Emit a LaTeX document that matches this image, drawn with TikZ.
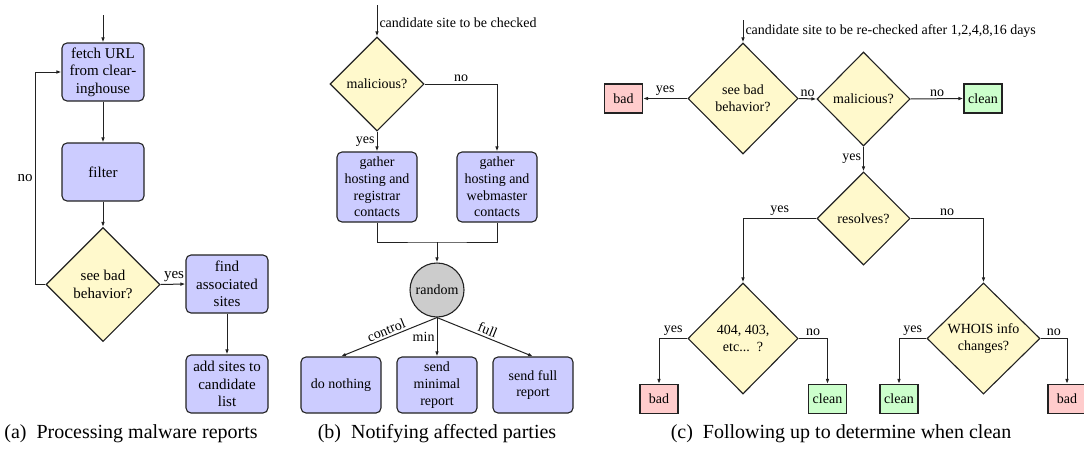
\documentclass[tikz,border=0pt]{standalone}
\usepackage{fontspec}
\setmainfont{Liberation Serif}
\newfontfamily\tms{Liberation Serif}
\usetikzlibrary{arrows.meta,shapes.geometric}
\definecolor{boxfill}{HTML}{CCCCFF}
\definecolor{decfill}{HTML}{FFF9CC}
\definecolor{rndfill}{HTML}{CCCCCC}
\definecolor{badfill}{HTML}{FFCCCC}
\definecolor{cleanfill}{HTML}{CCFFCC}
\definecolor{linec}{HTML}{222222}
\tikzset{
  x=1pt,y=-1pt,
  every node/.style={font=\tms\fontsize{14}{16.7}\selectfont},
  arr/.style={draw=linec,line width=1pt,-{Latex[length=5pt,width=3.6pt]}},
  ln/.style={draw=linec,line width=1pt},
  procbox/.style={draw=linec,line width=1.1pt,fill=boxfill,rounded corners=5pt,align=center,
    minimum width=80pt,inner sep=1pt},
  bigbox/.style={procbox,minimum width=82pt,minimum height=58pt,font=\tms\fontsize{15}{17.5}\selectfont},
  decision/.style={diamond,draw=linec,line width=1.1pt,fill=decfill,align=center,inner sep=0pt,aspect=1},
  randnode/.style={circle,draw=linec,line width=1.1pt,fill=rndfill,minimum size=54pt,inner sep=0pt},
  badbox/.style={draw=linec,line width=1.1pt,fill=badfill,minimum width=38pt,minimum height=29pt,inner sep=1pt},
  cleanbox/.style={draw=linec,line width=1.1pt,fill=cleanfill,minimum width=38pt,minimum height=29pt,inner sep=1pt},
  lbl/.style={font=\tms\fontsize{14}{16.7}\selectfont,inner sep=2pt},
  lbla/.style={font=\tms\fontsize{15}{17.5}\selectfont,inner sep=2pt},
  captext/.style={font=\tms\fontsize{20}{24}\selectfont,anchor=base}
}
\begin{document}
\begin{tikzpicture}
\useasboundingbox (0,0) rectangle (1084,450);
% ---------------- (a)
\coordinate (sA) at (103,15);
\node[bigbox] (fetch) at (103,72) {fetch URL\\from clear-\\inghouse};
\node[bigbox] (filter) at (103,172) {filter};
\node[decision,minimum width=114pt,minimum height=114pt,font=\tms\fontsize{15}{17.5}\selectfont] (dA) at (103,284.5) {see bad\\behavior?};
\node[bigbox] (find) at (227,284) {find\\associated\\sites};
\node[bigbox] (add) at (227,384) {add sites to\\candidate\\list};
\coordinate (loopA) at (35,284.5);
\draw[arr] (sA) -- (fetch.north);
\draw[arr] (fetch.south) -- (filter.north);
\draw[arr] (filter.south) -- (dA.north);
\draw[arr] (dA.west) -- (loopA) |- node[pos=0.25,left,lbla]{no} (fetch.west);
\draw[arr] (dA.east) -- node[above,lbla,xshift=1pt]{yes} (find.west);
\draw[arr] (find.south) -- (add.north);
\node[captext] (capA) at (131,438) {(a)\enspace Processing malware reports};
% ---------------- (b)
\coordinate (sB) at (377,5);
\node[decision,minimum width=94pt,minimum height=94pt] (dB) at (377,84) {malicious?};
\node[procbox,minimum height=70pt] (gl) at (377,187) {gather\\hosting and\\registrar\\contacts};
\node[procbox,minimum height=70pt] (gr) at (497,187) {gather\\hosting and\\webmaster\\contacts};
\node[randnode] (rnd) at (437,290) {random};
\node[procbox,minimum height=56pt] (nothing) at (341,385) {do nothing};
\node[procbox,minimum height=56pt] (minimal) at (437,385) {send\\minimal\\report};
\node[procbox,minimum height=56pt] (full) at (533,385) {send full\\report};
\draw[arr] (sB) -- node[pos=0.55,right,lbl]{candidate site to be checked} (dB.north);
\draw[arr] (dB.south) -- node[midway,left,lbl]{yes} (gl.north);
\draw[arr] (dB.east) -| node[pos=0.5,above,lbl,xshift=-36pt]{no} (gr.north);
\coordinate (mB) at (437,242);
\draw[ln] (gl.south) |- (mB) -| (gr.south);
\draw[arr] (mB) -- (rnd.north);
\draw[arr] (rnd.south) -- node[midway,above,sloped,lbl]{control} (nothing.north);
\draw[arr] (rnd.south) -- node[midway,left,lbl]{min} (minimal.north);
\draw[arr] (rnd.south) -- node[midway,above,sloped,lbl]{full} (full.north);
\node[captext] (capB) at (437,438) {(b)\enspace Notifying affected parties};
% ---------------- (c)
\coordinate (sC) at (743,20);
\node[decision,minimum width=110pt,minimum height=111pt] (c1) at (743,98.5) {see bad\\behavior?};
\node[badbox] (bad1) at (623.5,98.5) {bad};
\node[decision,minimum width=93pt,minimum height=94pt] (c2) at (863.5,99) {malicious?};
\node[cleanbox] (clean1) at (983,98.5) {clean};
\node[decision,minimum width=93pt,minimum height=93pt] (c3) at (863.5,218.5) {resolves?};
\node[decision,minimum width=110pt,minimum height=111pt] (c4) at (743,338.5) {404, 403,\\etc...\ \ ?};
\node[decision,minimum width=113pt,minimum height=111pt] (c5) at (983.5,338.5) {WHOIS info\\changes?};
\node[badbox] (bad2) at (659,399) {bad};
\node[cleanbox] (clean2) at (827.5,399) {clean};
\node[cleanbox] (clean3) at (899,399) {clean};
\node[badbox] (bad3) at (1067,399) {bad};
\draw[arr] (sC) -- node[pos=0.5,right,lbl]{candidate site to be re-checked after 1,2,4,8,16 days} (c1.north);
\draw[arr] (c1.west) -- node[midway,above,lbl]{yes} (bad1.east);
\draw[arr] (c1.east) -- node[midway,above,lbl]{no} (c2.west);
\draw[arr] (c2.east) -- node[midway,above,lbl]{no} (clean1.west);
\draw[arr] (c2.south) -- node[midway,left,lbl]{yes} (c3.north);
\draw[arr] (c3.west) -| node[pos=0.25,above,lbl]{yes} (c4.north);
\draw[arr] (c3.east) -| node[pos=0.25,above,lbl]{no} (c5.north);
\draw[arr] (c4.west) -| node[pos=0.25,above,lbl]{yes} (bad2.north);
\draw[arr] (c4.east) -| node[pos=0.25,above,lbl]{no} (clean2.north);
\draw[arr] (c5.west) -| node[pos=0.25,above,lbl]{yes} (clean3.north);
\draw[arr] (c5.east) -| node[pos=0.25,above,lbl]{no} (bad3.north);
\node[captext] (capC) at (841,438) {(c)\enspace Following up to determine when clean};
\end{tikzpicture}
\end{document}
